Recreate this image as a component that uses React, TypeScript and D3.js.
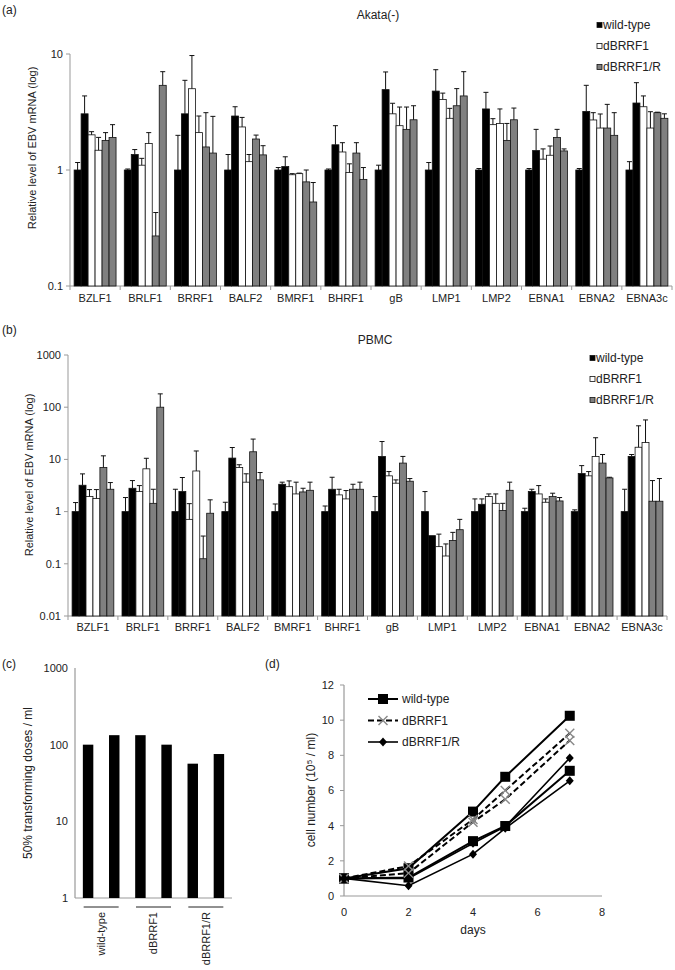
import React from 'react';
import * as d3 from 'd3';

const categories = ["BZLF1", "BRLF1", "BRRF1", "BALF2", "BMRF1", "BHRF1", "gB", "LMP1", "LMP2", "EBNA1", "EBNA2", "EBNA3c"];
const seriesNames = ["wild-type", "dBRRF1", "dBRRF1/R"];

// six bars per gene: wild-type x2, dBRRF1 x2, dBRRF1/R x2
const akataMeans = [
  [1.0, 3.05, 2.01, 1.48, 1.8, 1.91],
  [1.0, 1.36, 1.1, 1.69, 0.27, 5.37],
  [1.0, 3.05, 5.02, 2.1, 1.58, 1.4],
  [1.0, 2.92, 2.35, 1.18, 1.85, 1.35],
  [1.0, 1.07, 0.91, 0.93, 0.79, 0.53],
  [1.0, 1.65, 1.43, 0.95, 1.4, 0.83],
  [1.0, 4.93, 3.05, 2.41, 2.24, 2.71],
  [1.0, 4.79, 4.06, 2.79, 3.58, 4.35],
  [1.0, 3.36, 2.46, 2.52, 1.8, 2.71],
  [1.0, 1.47, 1.24, 1.34, 1.91, 1.46],
  [1.0, 3.2, 2.7, 2.3, 2.3, 1.99],
  [1.0, 3.78, 3.51, 2.3, 3.12, 2.79],
];
const akataErrTops = [
  [1.16, 4.35, 2.14, 1.91, 2.1, 2.46],
  [1.02, 1.5, 1.26, 2.1, 0.43, 7.04],
  [1.99, 5.93, 9.7, 2.92, 3.12, 2.9],
  [1.36, 3.51, 2.84, 1.36, 2.0, 1.62],
  [1.05, 1.3, 0.93, 0.94, 1.0, 0.78],
  [1.02, 2.41, 1.72, 1.13, 1.72, 1.05],
  [1.1, 7.0, 3.76, 3.49, 3.49, 3.58],
  [1.16, 7.32, 4.6, 3.4, 5.03, 7.04],
  [1.03, 4.67, 2.77, 3.36, 2.52, 3.42],
  [1.03, 2.24, 1.52, 1.61, 2.24, 1.52],
  [1.03, 5.37, 3.12, 3.04, 3.68, 3.12],
  [1.18, 5.66, 4.35, 3.18, 3.15, 3.05],
];
const pbmcMeans = [
  [1, 3.2, 1.94, 1.78, 6.98, 2.68],
  [1, 2.8, 2.42, 6.6, 1.44, 100],
  [1, 2.42, 0.71, 6.0, 0.125, 0.93],
  [1, 10.6, 7.0, 3.66, 14, 4.06],
  [1, 3.34, 3.0, 2.18, 2.38, 2.56],
  [1, 2.68, 2.09, 1.75, 2.68, 2.68],
  [1, 11.4, 4.84, 3.5, 8.5, 3.82],
  [1, 0.346, 0.213, 0.141, 0.28, 0.45],
  [1, 1.38, 1.94, 1.44, 1.05, 2.56],
  [1, 2.42, 2.18, 1.51, 1.94, 1.6],
  [1, 5.35, 4.84, 11.4, 8.5, 4.42],
  [1, 11.4, 17.1, 21, 1.58, 1.58],
];
const pbmcErrTops = [
  [1.49, 5.28, 2.64, 2.64, 11.7, 3.6],
  [1.86, 3.93, 3.15, 10.5, 2.68, 180],
  [2.68, 4.5, 1.42, 14.5, 0.34, 1.68],
  [1.51, 16.9, 7.9, 5.3, 24.5, 5.6],
  [1.4, 3.66, 3.87, 3.66, 2.8, 3.66],
  [1.28, 4.55, 2.68, 2.53, 3.34, 3.66],
  [1.94, 22, 5.85, 4.05, 11.4, 4.3],
  [2.42, 0.346, 0.37, 0.24, 0.4, 0.71],
  [1.75, 1.75, 2.18, 2.18, 1.44, 3.66],
  [1.16, 2.68, 3.15, 1.75, 2.25, 1.86],
  [1.08, 7.6, 5.85, 26, 12.4, 4.55],
  [2.68, 12.4, 44, 57, 3.93, 4.3],
];
const akataTicks = [10, 1, 0.1];
const pbmcTicks = [1000, 100, 10, 1, 0.1, 0.01];

const doseGroups = ["wild-type", "dBRRF1", "dBRRF1/R"];
const doseValues = [100, 133, 133, 100, 56.5, 75.5];
const doseTicks = [1000, 100, 10, 1];

const days = [0, 2, 4, 5, 7];
const growthWT = [
  [1, 1.58, 4.8, 6.78, 10.25],
  [1, 1.05, 3.12, 3.98, 7.12],
];
const growthDel = [
  [1, 1.7, 4.35, 6.0, 9.25],
  [1, 1.3, 4.2, 5.5, 8.85],
];
const growthRev = [
  [1, 0.58, 2.38, 3.85, 6.55],
  [1, 1.0, 3.0, 3.95, 7.85],
];
const dayTicks = [0, 2, 4, 6, 8];
const cellTicks = [0, 2, 4, 6, 8, 10, 12];

const FONT = "'Liberation Sans', Arial, sans-serif";
const AXIS = "#999";
const fills = ["#000", "#fff", "#808080"];

function BarPanel(props: any) {
  const { means, errs, domain, yRange, xRange, ticks, title, titleX, titleY, legendX, legendY, legendGap, ylabelX, ylabelY, catLabelY } = props;
  const y = d3.scaleLog().domain(domain).range(yRange);
  const x = d3.scaleBand<string>().domain(categories).range(xRange).paddingInner(0.164).paddingOuter(0.082);
  const inner = d3.scaleBand<number>().domain(d3.range(6)).range([0, x.bandwidth()]);
  const base = yRange[0];
  const step = x.step();
  return (
    <g fontFamily={FONT}>
      <line x1={xRange[0]} x2={xRange[0]} y1={yRange[1]} y2={base} stroke={AXIS} strokeWidth={1} />
      <line x1={xRange[0]} x2={xRange[1]} y1={base} y2={base} stroke={AXIS} strokeWidth={1} />
      {ticks.map((t: number) => (
        <g key={t}>
          <line x1={xRange[0] - 4} x2={xRange[0]} y1={y(t)} y2={y(t)} stroke={AXIS} />
          <text x={xRange[0] - 7} y={y(t)} dy="0.35em" textAnchor="end" fontSize={11} fill="#222">{String(t)}</text>
        </g>
      ))}
      {d3.range(categories.length + 1).map((k) => (
        <line key={k} x1={xRange[0] + k * step} x2={xRange[0] + k * step} y1={base} y2={base + 4} stroke={AXIS} />
      ))}
      {categories.map((c) => (
        <text key={c} x={(x(c) as number) + x.bandwidth() / 2} y={catLabelY} textAnchor="middle" fontSize={11} fill="#222">{c}</text>
      ))}
      {categories.map((c, i) => (
        <g key={c}>
          {means[i].map((v: number, j: number) => {
            const bx = (x(c) as number) + (inner(j) as number);
            const bw = inner.bandwidth();
            return (
              <rect key={j} x={bx} y={y(v)} width={bw} height={base - y(v)} fill={fills[Math.floor(j / 2)]} stroke="#111" strokeWidth={0.8} />
            );
          })}
          {means[i].map((v: number, j: number) => {
            const e = errs[i][j];
            if (!(e > v)) return null;
            const cx = (x(c) as number) + (inner(j) as number) + inner.bandwidth() / 2;
            return (
              <g key={'e' + j} stroke="#111" strokeWidth={1}>
                <line x1={cx} x2={cx} y1={y(v)} y2={y(e)} />
                <line x1={cx - 2.5} x2={cx + 2.5} y1={y(e)} y2={y(e)} />
              </g>
            );
          })}
        </g>
      ))}
      <text x={titleX} y={titleY} textAnchor="middle" fontSize={12} fill="#222">{title}</text>
      <text transform={`translate(${ylabelX},${ylabelY}) rotate(-90)`} textAnchor="middle" dy="0.35em" fontSize={11} fill="#222">Relative level of EBV mRNA (log)</text>
      {seriesNames.map((s, k) => (
        <g key={s}>
          <rect x={legendX} y={legendY + k * legendGap - 2.5} width={5} height={5} fill={fills[k]} stroke="#111" strokeWidth={0.8} />
          <text x={legendX + 6} y={legendY + k * legendGap} dy="0.35em" fontSize={12} fill="#222">{s}</text>
        </g>
      ))}
    </g>
  );
}

function DosePanel() {
  const y = d3.scaleLog().domain([1, 1000]).range([898, 668]);
  const x = d3.scaleBand<number>().domain(d3.range(doseValues.length)).range([75, 232]).paddingInner(0.6).paddingOuter(0.3);
  const bw = x.bandwidth();
  return (
    <g fontFamily={FONT}>
      <line x1={75} x2={75} y1={668} y2={898} stroke={AXIS} strokeWidth={1.2} />
      <line x1={75} x2={232} y1={898} y2={898} stroke={AXIS} strokeWidth={1.2} />
      {doseTicks.map((t) => (
        <text key={t} x={68} y={y(t)} dy="0.35em" textAnchor="end" fontSize={11} fill="#222">{t}</text>
      ))}
      {doseValues.map((v, i) => (
        <rect key={i} x={x(i) as number} y={y(v)} width={bw} height={898 - y(v)} fill="#000" />
      ))}
      {doseGroups.map((g, k) => {
        const c = ((x(2 * k) as number) + (x(2 * k + 1) as number) + bw) / 2;
        return (
          <g key={g}>
            <line x1={c - 17.5} x2={c + 17.5} y1={907} y2={907} stroke="#222" strokeWidth={1} />
            <text transform={`translate(${c},${912}) rotate(-90)`} textAnchor="end" dy="0.35em" fontSize={11} fill="#222">{g}</text>
          </g>
        );
      })}
      <text transform={`translate(28,783) rotate(-90)`} textAnchor="middle" dy="0.35em" fontSize={12} fill="#222">50% transforming doses / ml</text>
    </g>
  );
}

function marker(kind: string, cx: number, cy: number, key: string) {
  if (kind === 'square') return <rect key={key} x={cx - 5} y={cy - 5} width={10} height={10} fill="#000" />;
  if (kind === 'x')
    return (
      <g key={key} stroke="#888" strokeWidth={1.4}>
        <line x1={cx - 4.5} x2={cx + 4.5} y1={cy - 4.5} y2={cy + 4.5} />
        <line x1={cx - 4.5} x2={cx + 4.5} y1={cy + 4.5} y2={cy - 4.5} />
      </g>
    );
  return <path key={key} d={`M${cx},${cy - 4.5}L${cx + 4},${cy}L${cx},${cy + 4.5}L${cx - 4},${cy}Z`} fill="#000" />;
}

function GrowthPanel() {
  const x = d3.scaleLinear().domain([0, 8]).range([344, 602]);
  const y = d3.scaleLinear().domain([0, 12]).range([896, 685]);
  const line = d3.line<number>().x((_, i) => x(days[i])).y((d) => y(d));
  const sets = [
    { data: growthWT, kind: 'square', dash: undefined, width: 2 },
    { data: growthDel, kind: 'x', dash: '6,3', width: 2 },
    { data: growthRev, kind: 'diamond', dash: undefined, width: 1.6 },
  ];
  return (
    <g fontFamily={FONT}>
      <line x1={344} x2={344} y1={685} y2={896} stroke={AXIS} strokeWidth={1.2} />
      <line x1={344} x2={602} y1={896} y2={896} stroke={AXIS} strokeWidth={1.2} />
      {cellTicks.map((t) => (
        <g key={t}>
          <line x1={340} x2={344} y1={y(t)} y2={y(t)} stroke={AXIS} />
          <text x={334} y={y(t)} dy="0.35em" textAnchor="end" fontSize={11} fill="#222">{t}</text>
        </g>
      ))}
      {dayTicks.map((t) => (
        <text key={t} x={x(t)} y={916} textAnchor="middle" fontSize={11} fill="#222">{t}</text>
      ))}
      <text x={473} y={934} textAnchor="middle" fontSize={12} fill="#222">days</text>
      <text transform={`translate(311,790) rotate(-90)`} textAnchor="middle" dy="0.35em" fontSize={12} fill="#222">cell number (10⁵ / ml)</text>
      {sets.map((s, k) => s.data.map((d, r) => (
        <path key={`l${k}${r}`} d={line(d) as string} fill="none" stroke="#000" strokeWidth={s.width} strokeDasharray={s.dash} />
      )))}
      {sets.map((s, k) => s.data.map((d, r) => d.map((v, i) => marker(s.kind, x(days[i]), y(v), `m${k}${r}${i}`))))}
      {seriesNames.map((n, k) => {
        const ly = 699 + k * 21.5;
        return (
          <g key={n}>
            <line x1={368} x2={398} y1={ly} y2={ly} stroke="#000" strokeWidth={sets[k].width} strokeDasharray={sets[k].dash} />
            {marker(sets[k].kind, 383, ly, 'lg' + k)}
            <text x={402} y={ly} dy="0.35em" fontSize={12} fill="#222">{n}</text>
          </g>
        );
      })}
    </g>
  );
}

export default function App() {
  return (
    <svg width={675} height={970} style={{ position: 'absolute', left: 0, top: 0, background: '#fff' }} fontFamily={FONT}>
      <rect width={675} height={970} fill="#fff" />
      <text x={2} y={14} fontSize={12} fill="#222">(a)</text>
      <text x={2} y={334} fontSize={12} fill="#222">(b)</text>
      <text x={2} y={668} fontSize={12} fill="#222">(c)</text>
      <text x={265} y={668} fontSize={12} fill="#222">(d)</text>
      <BarPanel
        means={akataMeans} errs={akataErrTops} domain={[0.1, 10]} yRange={[286, 54]} xRange={[70, 672]}
        ticks={akataTicks} title="Akata(-)" titleX={378} titleY={19}
        legendX={597} legendY={25} legendGap={21} ylabelX={32} ylabelY={148} catLabelY={302}
      />
      <BarPanel
        means={pbmcMeans} errs={pbmcErrTops} domain={[0.01, 1000]} yRange={[616, 355]} xRange={[68, 667]}
        ticks={pbmcTicks} title="PBMC" titleX={375} titleY={344}
        legendX={590} legendY={358} legendGap={21} ylabelX={29} ylabelY={475} catLabelY={631}
      />
      <DosePanel />
      <GrowthPanel />
    </svg>
  );
}
